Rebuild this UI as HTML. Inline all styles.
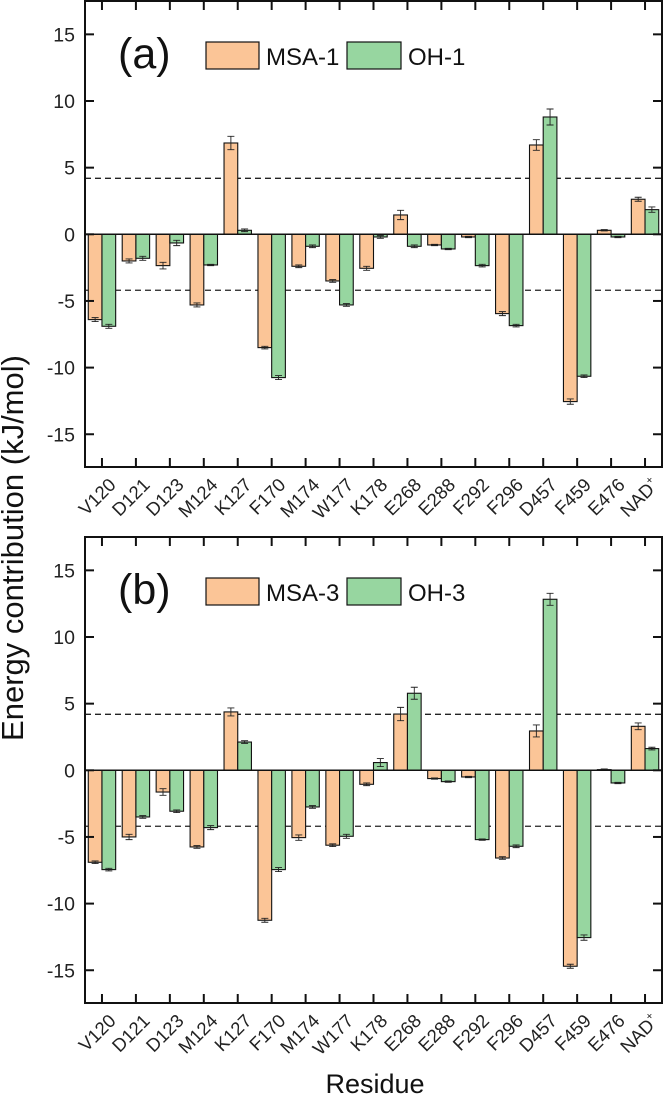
<!DOCTYPE html>
<html><head><meta charset="utf-8"><style>
html,body{margin:0;padding:0;background:#fff}
svg{display:block;font-family:"Liberation Sans",Arial,sans-serif}
</style></head><body>
<svg id="chart" width="664" height="1102" viewBox="0 0 664 1102" xmlns="http://www.w3.org/2000/svg"></svg>
<script>
const residues=["V120","D121","D123","M124","K127","F170","M174","W177","K178","E268","E288","F292","F296","D457","F459","E476","NAD"];
const msa1=[-6.4,-2.0,-2.35,-5.3,6.85,-8.5,-2.4,-3.5,-2.55,1.45,-0.8,-0.2,-5.95,6.7,-12.55,0.3,2.63];
const msa1Err=[0.15,0.15,0.25,0.15,0.5,0.1,0.1,0.1,0.15,0.35,0.05,0.05,0.15,0.4,0.2,0.05,0.15];
const oh1=[-6.9,-1.8,-0.65,-2.3,0.3,-10.75,-0.9,-5.3,-0.2,-0.9,-1.1,-2.35,-6.85,8.8,-10.65,-0.2,1.85];
const oh1Err=[0.15,0.15,0.2,0.05,0.1,0.15,0.1,0.1,0.1,0.1,0.05,0.1,0.1,0.6,0.1,0.05,0.2];
const msa3=[-6.9,-5.0,-1.63,-5.75,4.38,-11.25,-5.05,-5.62,-1.05,4.22,-0.62,-0.5,-6.58,2.95,-14.7,0.05,3.3];
const msa3Err=[0.1,0.2,0.25,0.1,0.3,0.15,0.2,0.1,0.1,0.5,0.05,0.05,0.1,0.45,0.15,0.05,0.25];
const oh3=[-7.45,-3.5,-3.07,-4.3,2.12,-7.45,-2.75,-4.95,0.58,5.78,-0.85,-5.2,-5.7,12.83,-12.55,-0.95,1.63];
const oh3Err=[0.1,0.1,0.1,0.15,0.1,0.15,0.1,0.15,0.3,0.45,0.05,0.05,0.1,0.45,0.2,0.05,0.1];
const yTicks=[-15,-10,-5,0,5,10,15];
const threshold=[4.2,-4.2];

const NS="http://www.w3.org/2000/svg";
const svg=document.getElementById('chart');
function el(tag,attrs,parent){const e=document.createElementNS(NS,tag);for(const k in attrs)e.setAttribute(k,attrs[k]);(parent||svg).appendChild(e);return e;}
const L=85,R=662,PX=(R-L)/17;
function xScale(i){return L+PX*(i+0.5);}
const BW=13.7;
const ORANGE="#FBC597",GREEN="#97D6A0";

function panel(top,tag,s1,e1,s2,e2,n1,n2,pname){
  const bottom=top+466;
  const zero=top+233.3;
  const k=13.33;
  const y=v=>zero-v*k;
  const g=el('g',{});
  
  
  threshold.forEach((t,j)=>{
    const d=el('line',{x1:L,x2:R,y1:y(t),y2:y(t),stroke:'#222','stroke-width':1.3,'stroke-dasharray':'6,4'},g);
    
    
  });
  [[s1,e1,ORANGE,-1,n1],[s2,e2,GREEN,0,n2]].forEach(([vals,errs,col,off,nm])=>{
    vals.forEach((v,i)=>{
      const x=xScale(i)+off*BW;
      const y0=Math.min(y(v),zero),h=Math.abs(y(v)-zero);
      const r=el('rect',{x:x,y:y0,width:BW,height:Math.max(h,0.8),fill:col,stroke:'#111','stroke-width':1.1},g);
      
      
      const cx=x+BW/2,ey=y(v),sgn=v>=0?1:-1,ed=errs[i]*k;
      const eb=el('path',{d:`M${cx},${ey} V${ey-sgn*ed} M${cx-3.5},${ey-sgn*ed} H${cx+3.5} M${cx},${ey} V${ey+sgn*ed} M${cx-3.5},${ey+sgn*ed} H${cx+3.5}`,stroke:'#222','stroke-width':0.9,fill:'none'},g);
      
      
    });
  });
  const zl=el('line',{x1:L,x2:R,y1:zero,y2:zero,stroke:'#111','stroke-width':1.5},g);
  
  
  const fr=el('rect',{x:L,y:top,width:R-L,height:bottom-top,fill:'none',stroke:'#111','stroke-width':2},g);
  
  
  yTicks.forEach(t=>{
    const yy=y(t);
    el('line',{x1:L,x2:L+9,y1:yy,y2:yy,stroke:'#111','stroke-width':2},g);
    el('line',{x1:R-9,x2:R,y1:yy,y2:yy,stroke:'#111','stroke-width':2},g);
    const tx=el('text',{x:L-10,y:yy+7,'text-anchor':'end','font-size':19.5,fill:'#222'},g);
    tx.textContent=t;
    
    
  });
  residues.forEach((r,i)=>{
    const xx=xScale(i);
    el('line',{x1:xx,x2:xx,y1:top,y2:top+9,stroke:'#111','stroke-width':2},g);
    el('line',{x1:xx,x2:xx,y1:bottom-9,y2:bottom,stroke:'#111','stroke-width':2},g);
    const ax=xx+15,ay=bottom+19;
    const tx=el('text',{x:ax,y:ay,'text-anchor':'end','font-size':18.5,fill:'#222',transform:`rotate(-45 ${ax} ${ay})`},g);
    
    
    if(r==="NAD"){tx.textContent="NAD";const sp=el('tspan',{'font-size':11,dy:-8},tx);sp.textContent="+";}
    else tx.textContent=r;
  });
  const pt=el('text',{x:118,y:top+67,'font-size':43,fill:'#111'},g);
  pt.textContent=tag;
  
  
  const lg=el('g',{},g);
  
  
  el('rect',{x:206,y:top+41,width:53,height:27,fill:ORANGE,stroke:'#111','stroke-width':1.2},lg);
  const t1=el('text',{x:266,y:top+64,'font-size':24,fill:'#111'},lg);t1.textContent=n1;
  el('rect',{x:347,y:top+41,width:54,height:27,fill:GREEN,stroke:'#111','stroke-width':1.2},lg);
  const t2=el('text',{x:408,y:top+64,'font-size':24,fill:'#111'},lg);t2.textContent=n2;
}
panel(1,"(a)",msa1,msa1Err,oh1,oh1Err,"MSA-1","OH-1","panel-a");
panel(537,"(b)",msa3,msa3Err,oh3,oh3Err,"MSA-3","OH-3","panel-b");

const yt=el('text',{x:23,y:548,'text-anchor':'middle','font-size':31,fill:'#111',transform:'rotate(-90 23 548)'});
yt.textContent="Energy contribution (kJ/mol)";


const xt=el('text',{x:375,y:1093,'text-anchor':'middle','font-size':27,fill:'#111'});
xt.textContent="Residue";


</script>
</body></html>
